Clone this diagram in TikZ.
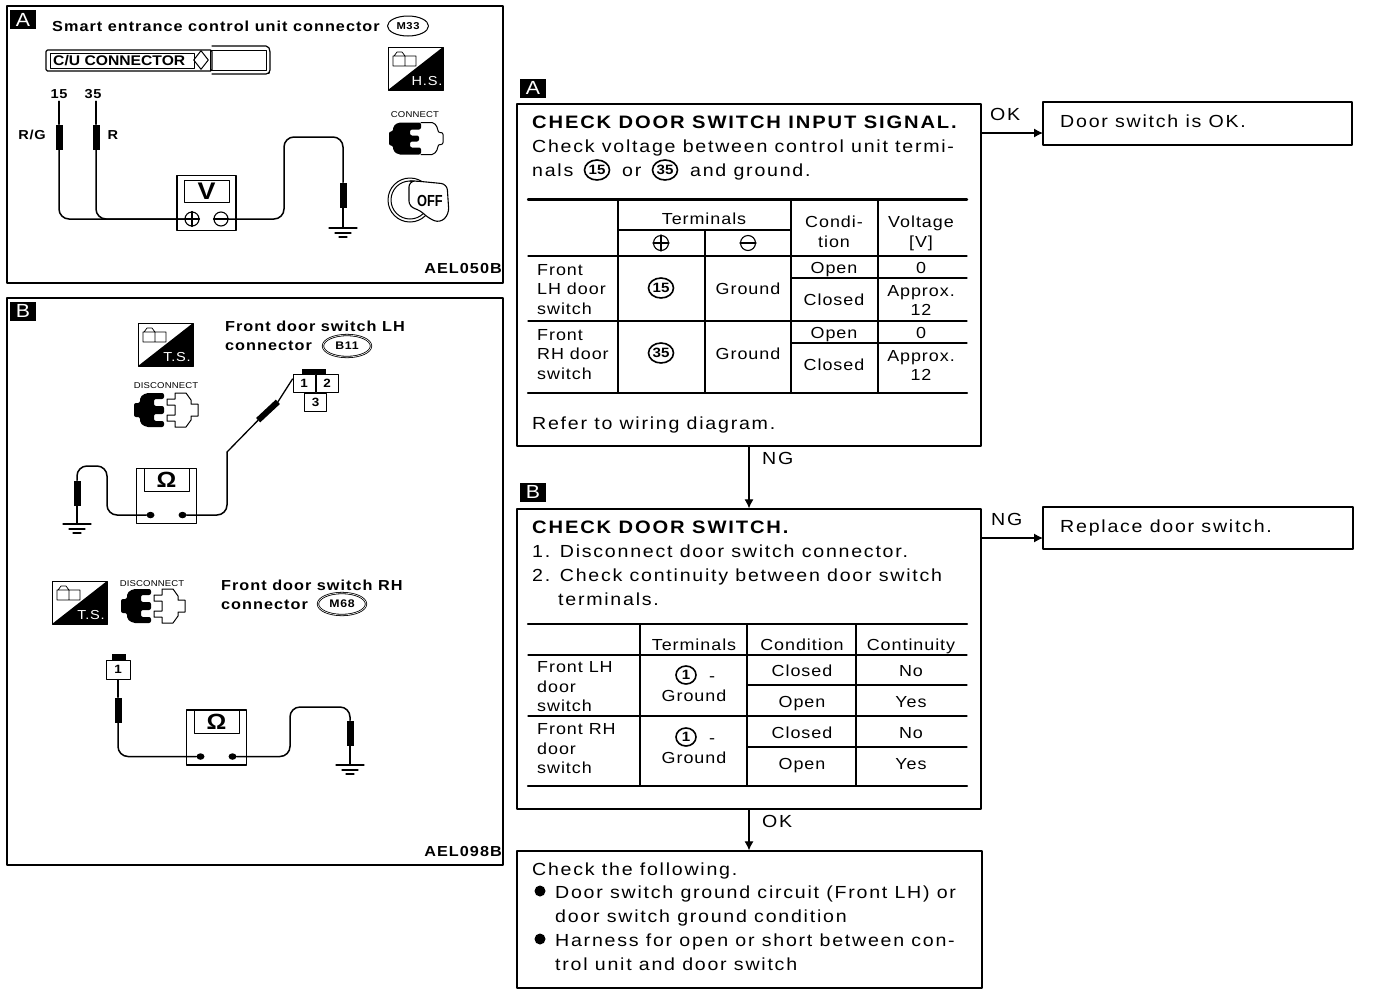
\documentclass[tikz,border=0pt]{standalone}
\usepackage{fontspec}
\setmainfont[FakeStretch=1.12,LetterSpace=6]{Liberation Sans}
\usetikzlibrary{arrows.meta, calc, positioning, shapes.geometric}
\tikzset{
  el/.style={line cap=round, line join=round},
  panel/.style={draw, line width=1.3pt, inner sep=0pt},
  tag/.style={fill=black, text=white, inner sep=0pt, minimum width=26pt, minimum height=19pt, font=\fontsize{19}{19}\selectfont},
  txt/.style={inner sep=0pt, anchor=west, text height=15pt, text depth=3pt, font=\fontsize{17.5}{18}\selectfont\addfontfeature{LetterSpace=10}},
  cell/.style={txt, anchor=center, font=\fontsize{16}{18}\selectfont},
  head/.style={txt, font=\fontsize{18}{18}\selectfont\bfseries\addfontfeature{LetterSpace=10.3}},
  smalltxt/.style={inner sep=0pt, anchor=west, text height=13pt, text depth=2pt, font=\fontsize{14.5}{16}\selectfont\bfseries\addfontfeature{LetterSpace=7}},
  tinytxt/.style={inner sep=0pt, font=\fontsize{8.5}{9}\selectfont\addfontfeature{LetterSpace=2}},
  numc/.style={draw, ellipse, line width=1.6pt, inner sep=0pt, minimum width=25pt, minimum height=20pt, font=\fontsize{13.5}{14}\selectfont\bfseries\addfontfeature{LetterSpace=0}},
  wire/.style={line width=1.5pt, rounded corners=10pt},
  tip/.style={line width=1.3pt},
  prb/.style={fill=black, inner sep=0pt, minimum width=7pt, minimum height=25pt},
  flow/.style={line width=1.1pt, -{Latex[length=9pt,width=9pt]}},
  thick line/.style={line width=2.4pt},
  thin line/.style={line width=1.1pt},
  pin/.style={draw, line width=1pt, inner sep=0pt, minimum width=22pt, minimum height=18pt, font=\fontsize{12}{12}\selectfont\bfseries\addfontfeature{LetterSpace=0}},
  dot/.style={fill=black, ellipse, inner sep=0pt, minimum width=8pt, minimum height=6.5pt}
}
% square icon with the small box in its corner
\newcommand{\modeicon}[4]{
  \draw[line width=1pt] (#2,#3) rectangle ++(55,43);
  \fill (#2+55,#3) -- (#2+55,#3+43) -- (#2,#3+43) -- cycle;
  \draw[line width=.7pt] (#2+5,#3+9) rectangle ++(12,10) (#2+17,#3+9) rectangle ++(11,10)
    (#2+6,#3+9) -- (#2+9,#3+5) -- (#2+14,#3+5) -- (#2+17,#3+9);
  \node[text=white, inner sep=0pt, font=\fontsize{13}{13}\selectfont] (#1) at (#2+39,#3+34) {#4};
}
\newcommand{\plugjoined}[2]{
  \begin{scope}[shift={(#1,#2)}]
    \fill[rounded corners=2pt] (-27,-7)--(-23,-7)--(-23,-12)--(-18,-16)--(5,-16)--(5,-9)--(-6,-9)--(-6,-3)--(3,-3)--(3,3)--(-6,3)--(-6,9)--(5,9)--(5,16)--(-18,16)--(-23,12)--(-23,7)--(-27,7)--cycle;
    \draw[line width=1pt, rounded corners=2pt] (5,-16)--(18,-16)--(22,-10)--(22,-6)--(27,-6)--(27,6)--(22,6)--(22,10)--(18,16)--(5,16);
  \end{scope}
}
\newcommand{\plugapart}[2]{
  \begin{scope}[shift={(#1,#2)}]
    \fill[rounded corners=2pt] (-32,-7)--(-26,-7)--(-26,-13)--(-20,-17)--(-2,-17)--(-2,-11)--(-12,-11)--(-12,-4)--(-2,-4)--(-2,4)--(-12,4)--(-12,11)--(-2,11)--(-2,17)--(-20,17)--(-26,13)--(-26,7)--(-32,7)--cycle;
    \draw[line width=1pt] (9,-17)--(20,-17)--(25,-10)--(25,-6)--(32,-6)--(32,6)--(25,6)--(25,10)--(20,17)--(9,17)--(9,11)--(1,11)--(1,5)--(9,5)--(9,-5)--(1,-5)--(1,-11)--(9,-11)--cycle;
  \end{scope}
}
\newcommand{\earth}[3]{
  \coordinate (#1) at (#2,#3);
  \draw[line width=1.3pt] (#2-14,#3) -- (#2+14,#3) (#2-8,#3+5) -- (#2+8,#3+5) (#2-4,#3+9) -- (#2+4,#3+9);
}
% meter body, display and the two terminals
\newcommand{\ohmmeter}[3]{
  \node[draw, line width=1.2pt, inner sep=0pt, minimum width=60pt, minimum height=55pt] (#1) at (#2,#3) {};
  \node[draw, line width=1pt, inner sep=0pt, minimum width=45pt, minimum height=23pt, font=\fontsize{22}{22}\selectfont\bfseries] (#1d) at (#2,#3-16) {Ω};
  \node[dot] (#1p) at (#2-16,#3+19) {};
  \node[dot] (#1m) at (#2+16,#3+19) {};
}
\begin{document}
\begin{tikzpicture}[x=1pt, y=-1pt, el]
  \useasboundingbox (0,0) rectangle (1376,994);
  \fill[white] (0,0) rectangle (1376,994);

  % left hand panels
  \node[panel, minimum width=496pt, minimum height=277pt] (pnla) at (255,144.5) {};
  \node[panel, minimum width=496pt, minimum height=567pt] (pnlb) at (255,581.5) {};
  \node[tag] (tagla) at (23,19.5) {A};
  \node[tag] (taglb) at (23,311) {B};
  \node[smalltxt, anchor=east] (coda) at (502,268) {AEL050B};
  \node[smalltxt, anchor=east] (codb) at (502,851) {AEL098B};

  % panel A
  \node[smalltxt] (smart) at (52,26) {Smart entrance control unit connector};
  \node[draw, ellipse, line width=1pt, inner sep=0pt, minimum width=41pt, minimum height=20pt, font=\fontsize{10}{10}\selectfont\bfseries] (m33) at (408,26) {M33};
  \draw[line width=1.2pt, rounded corners=1.5pt] (46,50) rectangle (212,71);
  \draw[line width=1.2pt, rounded corners=2pt] (212,46) -- (268,46) -- (270,50) -- (270,72) -- (268,74) -- (212,74);
  \draw[line width=1pt] (50,53) rectangle (194,68) (210,50) rectangle (266,70);
  \node[smalltxt, font=\fontsize{14}{14}\selectfont\bfseries\addfontfeature{LetterSpace=0}] (cucon) at (53,60) {C/U CONNECTOR};
  \node[draw, diamond, line width=1pt, inner sep=0pt, minimum width=15pt, minimum height=19pt] (cudia) at (201,60) {};
  \node[cell, font=\fontsize{13}{13}\selectfont\bfseries] (n15) at (59,92) {15};
  \node[cell, font=\fontsize{13}{13}\selectfont\bfseries] (n35) at (93,92) {35};
  \node[cell, font=\fontsize{13}{13}\selectfont\bfseries] (rg) at (32,133) {R/G};
  \node[cell, font=\fontsize{13}{13}\selectfont\bfseries] (rr) at (113,133) {R};
  \node[prb] (prba) at (59,137) {};
  \node[prb] (prbb) at (96,137) {};
  \node[prb] (prbc) at (343,195) {};
  \draw[tip] (prba.north) -- (n15.south);
  \draw[tip] (prbb.north) -- ([xshift=3pt]n35.south);
  \node[draw, line width=1.2pt, inner sep=0pt, minimum width=59pt, minimum height=55pt] (vm) at (206.5,203) {};
  \node[draw, line width=1pt, inner sep=0pt, minimum width=45pt, minimum height=22pt, font=\fontsize{24}{24}\selectfont\bfseries] (vmd) at (206.5,191) {V};
  \node[draw, circle, line width=1.1pt, inner sep=0pt, minimum size=14pt] (vmp) at (192,219) {};
  \node[draw, circle, line width=1.1pt, inner sep=0pt, minimum size=14pt] (vmm) at (221,219) {};
  \draw[thin line] (vmp.west) -- (vmp.east) (vmp.north) -- (vmp.south) (vmm.west) -- (vmm.east);
  \draw[wire] (prba.south) |- (vmp.west);
  \draw[wire] (prbb.south) |- (vmp.west);
  \coordinate (hmpa) at (284,137);
  \draw[wire] (vmm.east) -| (hmpa) -| (prbc.north);
  \earth{gnda}{343}{228}
  \draw[tip] (prbc.south) -- (gnda);
  \modeicon{hs}{388}{47}{H.S.}
  \node[tinytxt] (cnct) at (415,115) {CONNECT};
  \plugjoined{416}{138.5}
  \draw[line width=1pt] (410,200) circle (22) (410,200) circle (19);
  \draw[fill=white, line width=1.1pt, rounded corners=6pt] (416,181) -- (447,184) -- (449,214) -- (440,223) -- (428,218) -- (420,210) -- (409,207) -- (409,181) -- cycle;
  \node[inner sep=0pt, font=\fontsize{16}{16}\selectfont\bfseries\addfontfeature{LetterSpace=0,FakeStretch=.8}] (off) at (430,201) {OFF};

  % panel B, left door
  \modeicon{tsa}{138}{323}{T.S.}
  \node[tinytxt] (dcna) at (166,386) {DISCONNECT};
  \plugapart{166}{410}
  \node[smalltxt] (frlh) at (225,326) {Front door switch LH};
  \node[smalltxt] (cnlh) at (225,345) {connector};
  \node[draw, ellipse, double, line width=.8pt, inner sep=0pt, minimum width=48pt, minimum height=22pt, font=\fontsize{11}{11}\selectfont\bfseries] (b11) at (347,346) {B11};
  \node[pin] (pa1) at (304,383) {1};
  \node[pin, right=0pt of pa1] (pa2) {2};
  \node[pin, below=0pt of $(pa1.south)!.5!(pa2.south)$] (pa3) {3};
  \fill (302,369) rectangle (326,374);
  \node[prb, rotate=-47, minimum height=27pt, minimum width=6pt] (prbd) at (268,411) {};
  \draw[tip] (prbd.north) -- ([yshift=4pt]pa1.west);
  \coordinate (bnda) at (227,452);
  \ohmmeter{oma}{166.5}{496}
  \draw[wire] (omam.east) -| (bnda);
  \draw[tip] (bnda) -- (prbd.south);
  \node[prb] (prbe) at (77,493) {};
  \coordinate (hmpb) at (107,466);
  \draw[wire] (omap.west) -| (hmpb) -| (prbe.north);
  \earth{gndb}{77}{524}
  \draw[tip] (prbe.south) -- (gndb);

  % panel B, right door
  \modeicon{tsb}{52}{581}{T.S.}
  \node[tinytxt] (dcnb) at (152,584) {DISCONNECT};
  \plugapart{153}{606}
  \node[smalltxt] (frrh) at (221,585) {Front door switch RH};
  \node[smalltxt] (cnrh) at (221,604) {connector};
  \node[draw, ellipse, double, line width=.8pt, inner sep=0pt, minimum width=48pt, minimum height=22pt, font=\fontsize{11}{11}\selectfont\bfseries] (m68) at (342,604) {M68};
  \node[pin, minimum width=24pt, minimum height=19pt] (pb1) at (118,669.5) {1};
  \fill (112,654) rectangle (126,660);
  \node[prb] (prbf) at (118,710) {};
  \draw[tip] (pb1.south) -- (prbf.north);
  \ohmmeter{omb}{216.5}{737.5}
  \draw[wire] (prbf.south) |- (ombp.west);
  \coordinate (hmpc) at (290,707);
  \node[prb] (prbg) at (350,733) {};
  \draw[wire] (ombm.east) -| (hmpc) -| (prbg.north);
  \earth{gndc}{350}{765}
  \draw[tip] (prbg.south) -- (gndc);

  % flow chart boxes
  \node[tag] (tagra) at (533,88) {A};
  \node[tag] (tagrb) at (533,492) {B};
  \node[panel, minimum width=464pt, minimum height=342pt] (boxa) at (749,275) {};
  \node[panel, minimum width=464pt, minimum height=300pt] (boxb) at (749,659) {};
  \node[panel, minimum width=465pt, minimum height=137pt] (boxc) at (749.5,919.5) {};
  \node[panel, minimum width=309pt, minimum height=43pt] (boxok) at (1197.5,123.5) {};
  \node[panel, minimum width=310pt, minimum height=42pt] (boxng) at (1198,528) {};
  \coordinate (okin) at (1043,133);
  \coordinate (ngin) at (1043,538);
  \draw[flow] (boxa.east |- okin) -- (okin);
  \draw[flow] (boxb.east |- ngin) -- (ngin);
  \draw[flow] (boxa.south) -- (boxb.north);
  \draw[flow] (boxb.south) -- (boxb.south |- boxc.north);
  \foreach \lx/\ly/\ltxt [count=\i] in {990/114/OK, 762/458/NG, 991/519/NG, 762/821/OK}
    \node[txt] (flw\i) at (\lx,\ly) {\ltxt};
  \node[txt] (dsok) at (1060,121) {Door switch is OK.};
  \node[txt] (dsrp) at (1060,526) {Replace door switch.};

  % box A
  \node[head] (hda) at (532,122) {CHECK DOOR SWITCH INPUT SIGNAL.};
  \node[txt] (lna) at (532,146) {Check voltage between control unit termi-};
  \node[txt] (lnb) at (532,170) {nals};
  \node[numc] (c15) at (597,170) {15};
  \node[txt] (lnc) at (622,170) {or};
  \node[numc] (c35) at (665,170) {35};
  \node[txt] (lnd) at (690,170) {and ground.};
  \node[txt] (lne) at (532,423) {Refer to wiring diagram.};
  \foreach \yy in {199.5,393}
    \draw[thick line] (528,\yy) -- (967,\yy);
  \foreach \xa/\ya/\xb/\yb in {618/199/618/393, 705/230/705/393, 791/199/791/393, 878/199/878/393, 618/230/791/230, 528/256/967/256, 791/278/967/278, 528/321/967/321, 791/343/967/343}
    \draw[thin line] (\xa,\ya) -- (\xb,\yb);
  \foreach \lx/\ly/\ltxt [count=\i] in {704/218/Terminals, 834/221/Condi-, 834/241/tion, 921/221/Voltage, 921/241/{[V]}, 748/288/Ground, 834/267/Open, 921/267/0, 834/299/Closed, 921/290/Approx., 921/309/12, 748/353/Ground, 834/332/Open, 921/332/0, 834/364/Closed, 921/355/Approx., 921/374/12}
    \node[cell] (tac\i) at (\lx,\ly) {\ltxt};
  \foreach \ly/\ltxt [count=\i] in {269/Front, 288/LH door, 308/switch, 334/Front, 353/RH door, 373/switch}
    \node[cell, anchor=west] (tal\i) at (537,\ly) {\ltxt};
  \node[draw, circle, thin line, inner sep=0pt, minimum size=15pt] (tapl) at (661,243) {};
  \node[draw, circle, thin line, inner sep=0pt, minimum size=15pt] (tamn) at (748,243) {};
  \draw[thin line] (tapl.west) -- (tapl.east) (tapl.north) -- (tapl.south) (tamn.west) -- (tamn.east);
  \node[numc] (ta15) at (661,288) {15};
  \node[numc] (ta35) at (661,353) {35};

  % box B
  \node[head] (hdb) at (532,527) {CHECK DOOR SWITCH.};
  \foreach \lx/\ly/\ltxt [count=\i] in {532/551/1. Disconnect door switch connector., 532/575/2. Check continuity between door switch, 558/599/terminals.}
    \node[txt] (bln\i) at (\lx,\ly) {\ltxt};
  \foreach \yy in {624,786}
    \draw[thick line] (528,\yy) -- (967,\yy);
  \foreach \xa/\ya/\xb/\yb in {640/624/640/786, 747/624/747/786, 856/624/856/786, 528/655/967/655, 747/685/967/685, 528/716/967/716, 747/747/967/747}
    \draw[thin line] (\xa,\ya) -- (\xb,\yb);
  \foreach \lx/\ly/\ltxt [count=\i] in {694/644/Terminals, 802/644/Condition, 911/644/Continuity, 694/695/Ground, 802/670/Closed, 911/670/No, 802/701/Open, 911/701/Yes, 694/757/Ground, 802/732/Closed, 911/732/No, 802/763/Open, 911/763/Yes}
    \node[cell] (tbc\i) at (\lx,\ly) {\ltxt};
  \foreach \ly/\ltxt [count=\i] in {666/Front LH, 686/door, 705/switch, 728/Front RH, 748/door, 767/switch}
    \node[cell, anchor=west] (tbl\i) at (537,\ly) {\ltxt};
  \foreach \ly [count=\i] in {675,737}{
    \node[numc, minimum width=20pt, minimum height=18pt] (tbn\i) at (686,\ly) {1};
    \node[cell] (tbd\i) at (712,\ly) {-};}

  % box C
  \foreach \lx/\ly/\ltxt [count=\i] in {532/869/Check the following., 555/892/Door switch ground circuit (Front LH) or, 555/916/door switch ground condition, 555/940/Harness for open or short between con-, 555/964/trol unit and door switch}
    \node[txt] (cln\i) at (\lx,\ly) {\ltxt};
  \node[circle, fill=black, inner sep=0pt, minimum size=11pt] (bula) at (540,891) {};
  \node[circle, fill=black, inner sep=0pt, minimum size=11pt] (bulb) at (540,939) {};
\end{tikzpicture}
\end{document}
